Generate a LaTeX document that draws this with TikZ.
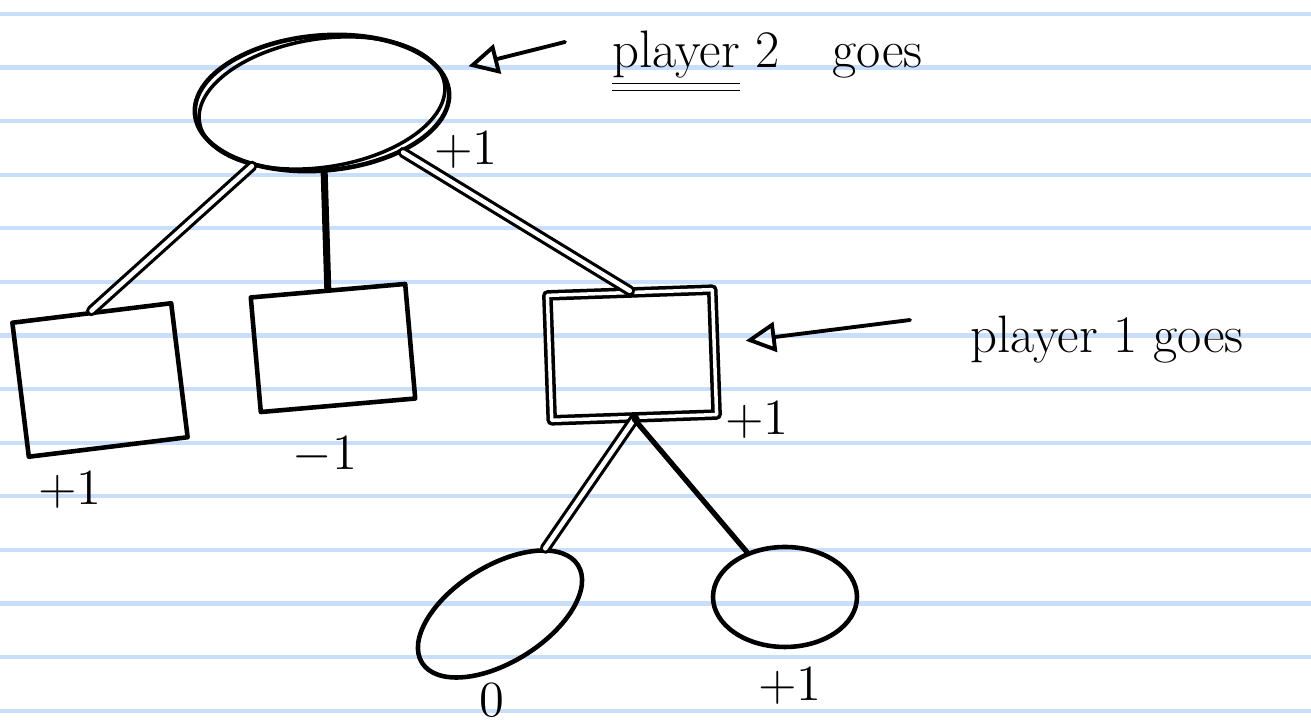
\documentclass[tikz,border=0pt]{standalone}
\usepackage{tikz}
\usetikzlibrary{arrows.meta,shapes.geometric,positioning}
\definecolor{ruleblue}{RGB}{200,222,250}

\begin{document}
\begin{tikzpicture}[
  x=0.1mm,y=-0.1mm,line cap=round,line join=round,
  state/.style={draw,ellipse,line width=1.3pt,inner sep=0pt},
  move/.style={draw,rectangle,line width=1.3pt,inner sep=0pt},
  val/.style={font=\fontsize{14}{16}\selectfont,inner sep=1pt},
  note/.style={font=\fontsize{15}{18}\selectfont,anchor=west},
  edge/.style={line width=1.5pt},
  twin/.style={line width=0.9pt,double=white,double distance=1.3pt},
  pointer/.style={-{Triangle[open,length=3mm,width=3mm]},line width=1.1pt}
]
  % ruled paper
  \fill[white] (0,0) rectangle (1311,725);
  \useasboundingbox (0,0) rectangle (1311,725);
  \foreach \k in {0,...,13}
    \draw[ruleblue,line width=1.2pt] (0,14+53.6*\k) -- (1311,14+53.6*\k);

  % game tree
  \node[state,minimum width=25.5mm,minimum height=13.5mm,rotate=5] (root) at (322,103) {};
  \draw[line width=1pt,rotate around={9:(root.center)}] (root.center) ellipse [x radius=124,y radius=64];
  \node[move,minimum width=16mm,minimum height=13.5mm,rotate=7] (a) at (100,380) {};
  \node[move,minimum width=15.5mm,minimum height=11.5mm,rotate=5] (b) at (333,348) {};
  \node[move,minimum width=16.5mm,minimum height=12.5mm,rotate=2,double=white,double distance=1pt,line width=1pt] (c) at (632,355) {};
  \node[state,minimum width=18.4mm,minimum height=9.6mm,rotate=32] (l0) at (500,614) {};
  \node[state,minimum width=14.4mm,minimum height=10mm] (l1) at (785,597) {};

  \draw[twin] (root) -- (a.north);
  \draw[edge,line width=2pt] (root) -- (b.north);
  \draw[twin] (root) -- (c.north);
  \draw[twin] (c.south) -- (l0);
  \draw[edge] (c.south) -- (l1);

  % values
  \node[val] (vroot) at (466,150) {$+1$};
  \node[val] (va) at (70,490) {$+1$};
  \node[val] (vb) at (325,455) {$-1$};
  \node[val] (vc) at (757,420) {$+1$};
  \node[val] (vl0) at (492,700) {$0$};
  \node[val] (vl1) at (790,686) {$+1$};

  % who moves
  \node[note] (p2) at (600,62) {\underline{\underline{player}} 2\quad goes};
  \node[note] (p1) at (958,340) {player 1 goes};
  \coordinate (p2tail) at (565,42);
  \coordinate (p1tail) at (910,320);
  \draw[pointer,shorten >=2.5mm] (p2tail) -- (root);
  \draw[pointer,shorten >=3mm] (p1tail) -- (c);
\end{tikzpicture}
\end{document}
